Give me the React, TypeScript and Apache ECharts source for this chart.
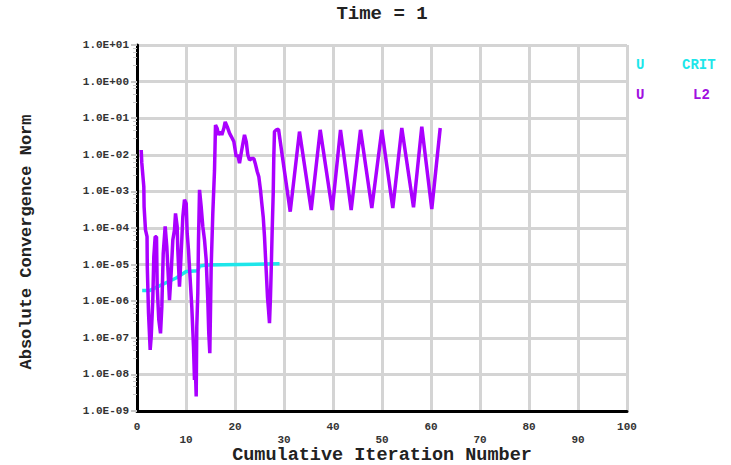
import React, { useEffect, useRef } from "react";
import * as echarts from "echarts";

const titleText = "Time = 1";
const xAxisTitle = "Cumulative Iteration Number";
const yAxisTitle = "Absolute Convergence Norm";

const xTicks = [0, 10, 20, 30, 40, 50, 60, 70, 80, 90, 100];
const yTickLabels = [
  "1.0E-09", "1.0E-08", "1.0E-07", "1.0E-06", "1.0E-05",
  "1.0E-04", "1.0E-03", "1.0E-02", "1.0E-01", "1.0E+00", "1.0E+01",
];

const seriesNames = ["U CRIT", "U L2"];

// U L2 residual norm
const l2Iter = [
  0.86, 0.98, 1.39, 1.45, 1.73, 2.05, 2.1, 2.35, 2.69, 2.9, 3.22, 3.43, 3.71, 3.98,
  4.12, 4.45, 4.8, 5.07, 5.35, 5.75, 6.08, 6.29, 6.63, 6.97, 7.31, 7.65, 7.86, 8.2,
  8.33, 8.67, 8.88, 9.14, 9.35, 9.69, 10.04, 10.24, 10.51, 10.86, 11.18, 11.53, 11.73,
  11.94, 12.08, 12.2, 12.41, 12.55, 12.76, 13.1, 13.43, 13.78, 14.12, 14.45, 14.65,
  14.86, 15.14, 15.47, 15.82, 16.02, 16.37, 16.63, 17.04, 17.31, 17.71, 18.0, 18.41,
  18.88, 19.22, 19.76, 20.04, 20.24, 20.57, 20.92, 21.26, 21.6, 21.94, 22.29, 22.61,
  22.96, 23.43, 23.84, 24.12, 24.53, 24.86, 25.2, 25.47, 25.76, 26.02, 26.22, 26.43,
  26.63, 26.84, 27.04, 27.24, 27.39, 27.59, 27.8, 27.92, 28.06, 28.41, 28.88,
  31.27, 33.16, 35.55, 37.39, 39.84, 41.53, 43.71, 45.61, 47.92, 49.96, 52.2, 54.04,
  56.43, 58.12, 60.16, 61.88,
];
const l2Value = [
  1.35e-2, 6.0e-3, 1.35e-3, 3.8e-4, 8.9e-5, 5.8e-5, 8.7e-6, 4.8e-7, 4.7e-8, 1.07e-7,
  1.07e-6, 1.66e-5, 5.8e-5, 5.8e-5, 2.5e-6, 3.1e-7, 1.32e-7, 7.1e-7, 2.0e-5, 1.1e-4,
  3.1e-5, 8.7e-6, 1.07e-6, 5.8e-6, 4.7e-5, 8.9e-5, 2.5e-4, 1.1e-4, 2.5e-5, 2.5e-6,
  8.7e-6, 4.7e-5, 2.0e-4, 5.9e-4, 4.7e-4, 7.2e-5, 2.5e-5, 3.8e-6, 7.1e-7, 5.8e-8,
  7.1e-9, 1.07e-8, 2.5e-9, 2.0e-7, 1.66e-6, 4.7e-5, 1.1e-3, 3.8e-4, 1.1e-4, 4.7e-5,
  1.35e-5, 1.07e-6, 1.32e-7, 3.8e-8, 8.7e-6, 2.5e-4, 3.8e-3, 6.5e-2, 5.2e-2, 3.5e-2,
  4.3e-2, 3.5e-2, 5.2e-2, 7.9e-2, 5.9e-2, 3.9e-2, 3.2e-2, 2.3e-2, 1.35e-2, 8.9e-3,
  1.0e-2, 5.9e-3, 1.1e-2, 2.0e-2, 3.5e-2, 2.3e-2, 1.0e-2, 7.2e-3, 7.9e-3, 7.9e-3,
  5.9e-3, 3.5e-3, 2.5e-3, 1.1e-3, 4.7e-4, 2.0e-4, 5.8e-5, 1.66e-5, 4.7e-6, 1.32e-6,
  5.8e-7, 2.5e-7, 1.32e-6, 7.1e-6, 8.9e-5, 8.9e-4, 8.9e-3, 4.3e-2, 4.8e-2, 5.0e-2,
  2.8e-4, 4.3e-2, 3.1e-4, 4.8e-2, 3.1e-4, 4.8e-2, 3.1e-4, 4.8e-2, 3.5e-4, 4.8e-2,
  3.5e-4, 5.4e-2, 3.7e-4, 5.9e-2, 3.3e-4, 5.4e-2,
];

// U CRIT convergence criterion
const critIter = [1.06, 2.55, 4.24, 8.0, 10.04, 12.4, 12.76, 14.12, 29.08];
const critValue = [1.95e-6, 1.95e-6, 2.5e-6, 4.3e-6, 6.5e-6, 6.8e-6, 9.1e-6, 9.8e-6, 1.05e-5];

const FONT = "'Liberation Mono', 'DejaVu Sans Mono', monospace";
const CYAN = "#1ee6ea";
const PURPLE = "#aa00ff";
const LEGEND_PURPLE = "#a010e0";

export default function App() {
  const ref = useRef<HTMLDivElement>(null);

  useEffect(() => {
    if (!ref.current) return;
    const chart = echarts.init(ref.current, undefined, { renderer: "svg" });
    const l2Data = l2Iter.map((x, i) => [x, l2Value[i]]);
    const critData = critIter.map((x, i) => [x, critValue[i]]);

    const legendText = (text: string, left: number, top: number, fill: string) => ({
      type: "text",
      left,
      top,
      style: { text, fontFamily: FONT, fontSize: 14, fontWeight: "bold", fill },
    });

    const tickFont = { fontFamily: FONT, fontSize: 11, fontWeight: "bold", color: "#333" };
    const xMin = xTicks[0];
    const xMax = xTicks[xTicks.length - 1];

    chart.setOption({
      animation: false,
      backgroundColor: "#ffffff",
      grid: { left: 137, right: 104, top: 45, bottom: 54, containLabel: false },
      xAxis: [
        {
          type: "value",
          min: xMin,
          max: xMax,
          interval: 10,
          axisLine: { show: true, onZero: false, lineStyle: { color: "#000", width: 3 } },
          axisTick: { show: false },
          axisLabel: {
            ...tickFont,
            margin: 10,
            showMaxLabel: true,
            formatter: (v: number) => (v % 20 === 0 ? String(v) : ""),
          },
          splitLine: { show: true, lineStyle: { color: "#d4d4d4", width: 3 } },
        },
        {
          type: "value",
          position: "bottom",
          offset: 13,
          min: xMin,
          max: xMax,
          interval: 10,
          axisLine: { show: false },
          axisTick: { show: false },
          axisLabel: {
            ...tickFont,
            margin: 10,
            formatter: (v: number) => (v % 20 === 10 ? String(v) : ""),
          },
          splitLine: { show: false },
        },
      ],
      yAxis: {
        type: "log",
        logBase: 10,
        min: 1e-9,
        max: 10,
        splitNumber: 10,
        axisLine: { show: true, lineStyle: { color: "#000", width: 3 } },
        axisTick: { show: true, length: 6, lineStyle: { color: "#c8c8c8", width: 2 } },
        minorTick: { show: true, splitNumber: 5, length: 4, lineStyle: { color: "#c8c8c8", width: 1 } },
        axisLabel: {
          ...tickFont,
          margin: 8,
          formatter: (v: number) => {
            const e = Math.round(Math.log10(v));
            return yTickLabels[e + 9] ?? "";
          },
        },
        splitLine: { show: true, lineStyle: { color: "#d4d4d4", width: 3 } },
      },
      graphic: [
        {
          type: "text",
          x: 382,
          y: 14,
          style: {
            text: titleText, fontFamily: FONT, fontSize: 19, fontWeight: "bold", fill: "#222",
            align: "center", verticalAlign: "middle",
          },
        },
        {
          type: "text",
          x: 382,
          y: 455,
          style: {
            text: xAxisTitle, fontFamily: FONT, fontSize: 18.5, fontWeight: "bold", fill: "#222",
            align: "center", verticalAlign: "middle",
          },
        },
        {
          type: "text",
          x: 26,
          y: 242,
          rotation: Math.PI / 2,
          style: {
            text: yAxisTitle, fontFamily: FONT, fontSize: 17, fontWeight: "bold", fill: "#222",
            align: "center", verticalAlign: "middle",
          },
        },
        legendText("U", 636, 58, CYAN),
        legendText("CRIT", 682, 58, CYAN),
        legendText("U", 636, 88, LEGEND_PURPLE),
        legendText("L2", 693, 88, LEGEND_PURPLE),
      ],
      series: [
        {
          name: seriesNames[0],
          type: "line",
          xAxisIndex: 0,
          data: critData,
          showSymbol: false,
          lineStyle: { color: CYAN, width: 3.5 },
          itemStyle: { color: CYAN },
          z: 2,
        },
        {
          name: seriesNames[1],
          type: "line",
          xAxisIndex: 0,
          data: l2Data,
          showSymbol: false,
          lineStyle: { color: PURPLE, width: 3.5 },
          itemStyle: { color: PURPLE },
          z: 3,
        },
      ],
    });

    return () => chart.dispose();
  }, []);

  return (
    <div
      ref={ref}
      style={{ position: "fixed", left: 0, top: 0, width: 731, height: 465, background: "#fff" }}
    />
  );
}
